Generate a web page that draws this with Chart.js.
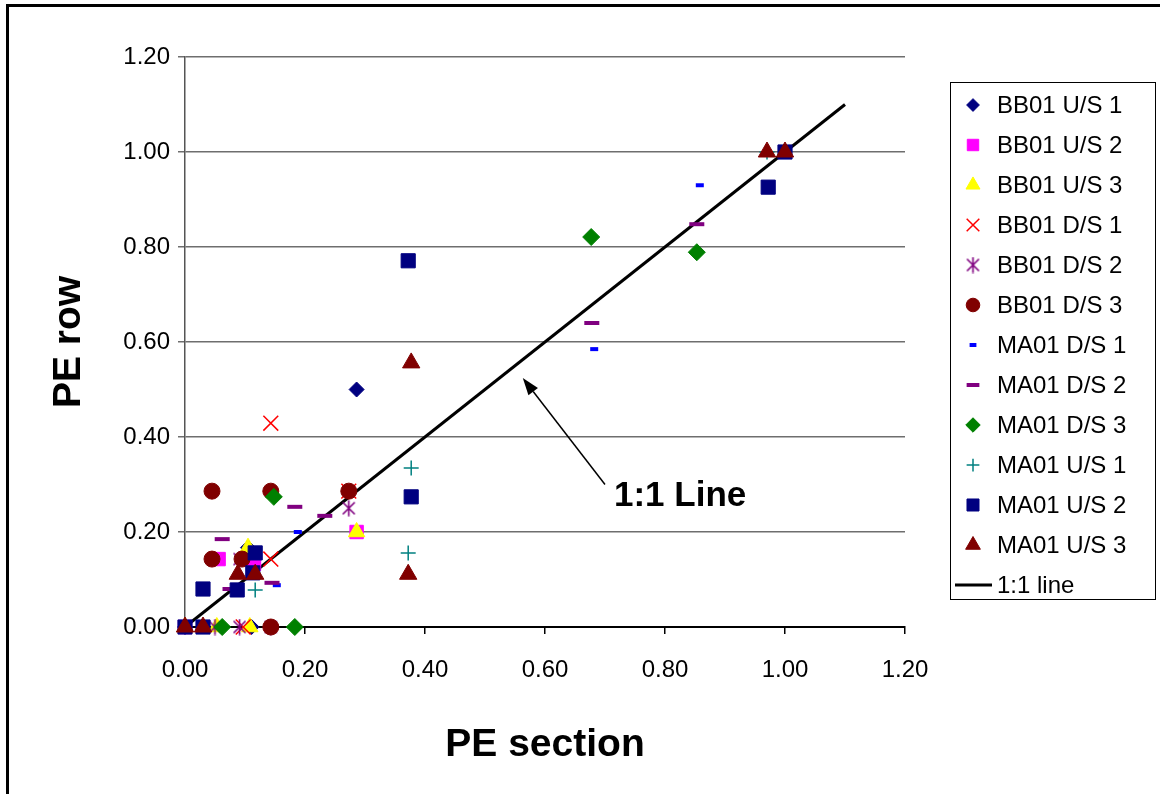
<!DOCTYPE html>
<html>
<head>
<meta charset="utf-8">
<title>PE section vs PE row</title>
<script src="https://cdn.jsdelivr.net/npm/chart.js@4.4.0/dist/chart.umd.min.js"></script>
<style>
  html, body { margin: 0; padding: 0; background: #ffffff; }
  #wrap { position: relative; width: 1160px; height: 794px; }
</style>
</head>
<body>
<div id="wrap"><canvas id="peChart" width="1160" height="794"></canvas></div>
<script>
// series labels, in legend order
const seriesNames = [
    'BB01 U/S 1', 'BB01 U/S 2', 'BB01 U/S 3',
    'BB01 D/S 1', 'BB01 D/S 2', 'BB01 D/S 3',
    'MA01 D/S 1', 'MA01 D/S 2', 'MA01 D/S 3',
    'MA01 U/S 1', 'MA01 U/S 2', 'MA01 U/S 3'
];
const lineName = '1:1 line';

// [PE section, PE row] pairs per series
const bb01Us1 = [[0, 0], [0.105, 0.167], [0.111, 0], [0.286, 0.5]];
const bb01Us2 = [[0, 0], [0.056, 0.143], [0.115, 0.133], [0.286, 0.2]];
const bb01Us3 = [[0, 0], [0.053, 0], [0.105, 0.167], [0.108, 0], [0.286, 0.2]];
const bb01Ds1 = [[0.097, 0], [0.143, 0.143], [0.143, 0.429], [0.273, 0.286]];
const bb01Ds2 = [[0.05, 0], [0.091, 0], [0.091, 0.143], [0.143, 0], [0.273, 0.25]];
const bb01Ds3 = [[0.045, 0.143], [0.095, 0.143], [0.045, 0.286], [0.143, 0.286], [0.273, 0.286], [0.143, 0]];
const ma01Ds1 = [[0.153, 0.088], [0.188, 0.2], [0.682, 0.585], [0.858, 0.93]];
const ma01Ds2 = [[0.062, 0.185], [0.075, 0.08], [0.145, 0.093], [0.183, 0.253], [0.233, 0.234], [0.678, 0.64], [0.853, 0.848]];
const ma01Ds3 = [[0.062, 0], [0.183, 0], [0.148, 0.274], [0.677, 0.821], [0.853, 0.789]];
const ma01Us1 = [[0.117, 0.078], [0.372, 0.156], [0.377, 0.335], [0.97, 1.0]];
const ma01Us2 = [[0, 0], [0.03, 0], [0.03, 0.08], [0.087, 0.078], [0.113, 0.114], [0.117, 0.156],
                 [0.372, 0.771], [0.377, 0.274], [0.972, 0.926], [1.0, 1.0]];
const ma01Us3 = [[0, 0], [0.03, 0], [0.088, 0.111], [0.117, 0.111], [0.372, 0.111], [0.377, 0.556],
                 [0.97, 1.0], [1.0, 1.0]];
const oneToOne = [[0, 0], [1.1, 1.1]];

const xTickLabels = ['0.00', '0.20', '0.40', '0.60', '0.80', '1.00', '1.20'];
const yTickLabels = ['0.00', '0.20', '0.40', '0.60', '0.80', '1.00', '1.20'];

// callout for the 1:1 line, in data units
const calloutText = '1:1 Line';
const calloutTail = [0.70, 0.30];
const calloutTip = [0.563, 0.524];
const calloutLabelAt = [0.715, 0.275];

const FONT = "'Liberation Sans', Arial, sans-serif";

// Excel style asterisk: an X with a vertical bar
function makeAsterisk(size, color) {
    const c = document.createElement('canvas');
    c.width = c.height = size;
    const g = c.getContext('2d');
    g.strokeStyle = color;
    g.lineWidth = 1.6;
    const a = 2.5, b = size - 2.5;
    g.beginPath();
    g.moveTo(a, a); g.lineTo(b, b);
    g.moveTo(b, a); g.lineTo(a, b);
    g.moveTo(size / 2, 0.5); g.lineTo(size / 2, size - 0.5);
    g.stroke();
    return c;
}

const toXY = arr => arr.map(([x, y]) => ({ x, y }));

// marker look for each series
const markerStyles = [
    { style: 'rectRot', r: 7.5, color: '#000080' },
    { style: 'rect', r: 9.5, color: '#FF00FF' },
    { style: 'triangle', r: 9.5, color: '#FFFF00' },
    { style: 'crossRot', r: 10.5, color: '#FF0000', line: 1.5 },
    { style: makeAsterisk(17, '#800080'), r: 8, color: '#800080' },
    { style: 'circle', r: 8, color: '#800000' },
    { style: 'line', r: 4, color: '#0000FF', line: 4 },
    { style: 'line', r: 7.5, color: '#800080', line: 4 },
    { style: 'rectRot', r: 8.5, color: '#008000' },
    { style: 'cross', r: 7.5, color: '#008080', line: 1.5 },
    { style: 'rect', r: 10, color: '#000080' },
    { style: 'triangle', r: 10, color: '#800000' }
];

const seriesData = [bb01Us1, bb01Us2, bb01Us3, bb01Ds1, bb01Ds2, bb01Ds3,
                    ma01Ds1, ma01Ds2, ma01Ds3, ma01Us1, ma01Us2, ma01Us3];

const datasets = seriesData.map((pts, i) => {
    const m = markerStyles[i];
    return {
        type: 'scatter',
        label: seriesNames[i],
        data: toXY(pts),
        pointStyle: m.style,
        pointRadius: m.r,
        pointHoverRadius: m.r,
        backgroundColor: m.color,
        borderColor: m.color,
        pointBorderWidth: m.line || 1,
        clip: false,
        // later series sit on top, as in the spreadsheet
        order: seriesNames.length - i
    };
});

datasets.push({
    type: 'line',
    label: lineName,
    data: toXY(oneToOne),
    borderColor: '#000000',
    borderWidth: 3,
    pointRadius: 0,
    fill: false,
    order: seriesNames.length + 1
});

// outer frame, boxed legend and the arrow callout
const decorations = {
    id: 'decorations',
    afterDraw(chart) {
        const ctx = chart.ctx;
        const xs = chart.scales.x, ys = chart.scales.y;
        ctx.save();

        // frame (only the top and left edges fall inside the canvas)
        ctx.strokeStyle = '#000';
        ctx.lineWidth = 3;
        ctx.beginPath();
        ctx.moveTo(7.5, 800);
        ctx.lineTo(7.5, 5.5);
        ctx.lineTo(1170, 5.5);
        ctx.stroke();

        // callout arrow
        const tx = xs.getPixelForValue(calloutTail[0]), ty = ys.getPixelForValue(calloutTail[1]);
        const hx = xs.getPixelForValue(calloutTip[0]), hy = ys.getPixelForValue(calloutTip[1]);
        const ang = Math.atan2(hy - ty, hx - tx);
        const headLen = 17, headHalf = 6;
        const bx = hx - headLen * Math.cos(ang), by = hy - headLen * Math.sin(ang);
        ctx.lineWidth = 1.5;
        ctx.beginPath();
        ctx.moveTo(tx, ty);
        ctx.lineTo(bx, by);
        ctx.stroke();
        ctx.fillStyle = '#000';
        ctx.beginPath();
        ctx.moveTo(hx, hy);
        ctx.lineTo(bx + headHalf * Math.sin(ang), by - headHalf * Math.cos(ang));
        ctx.lineTo(bx - headHalf * Math.sin(ang), by + headHalf * Math.cos(ang));
        ctx.closePath();
        ctx.fill();

        ctx.font = 'bold 35px ' + FONT;
        ctx.textAlign = 'left';
        ctx.textBaseline = 'middle';
        ctx.fillText(calloutText, xs.getPixelForValue(calloutLabelAt[0]), ys.getPixelForValue(calloutLabelAt[1]));

        // legend
        const lx = 950.5, ly = 82.5, lw = 205, lh = 517;
        ctx.fillStyle = '#fff';
        ctx.fillRect(lx, ly, lw, lh);
        ctx.strokeStyle = '#000';
        ctx.lineWidth = 1;
        ctx.strokeRect(lx, ly, lw, lh);

        const drawPoint = Chart.helpers && Chart.helpers.drawPoint;
        ctx.font = '24px ' + FONT;
        ctx.textBaseline = 'middle';
        chart.data.datasets.forEach((ds, i) => {
            const rowY = 105 + i * 40;
            if (ds.type === 'line') {
                ctx.strokeStyle = ds.borderColor;
                ctx.lineWidth = 3;
                ctx.beginPath();
                ctx.moveTo(955, rowY);
                ctx.lineTo(992, rowY);
                ctx.stroke();
            } else if (drawPoint) {
                ctx.fillStyle = ds.backgroundColor;
                ctx.strokeStyle = ds.borderColor;
                ctx.lineWidth = ds.pointBorderWidth;
                drawPoint(ctx, {
                    pointStyle: ds.pointStyle,
                    radius: ds.pointRadius * 0.85,
                    rotation: 0,
                    borderWidth: ds.pointBorderWidth
                }, 973, rowY);
            }
            ctx.fillStyle = '#000';
            ctx.fillText(ds.label, 997, rowY + 1);
        });
        ctx.restore();
    }
};

new Chart(document.getElementById('peChart'), {
    data: { datasets },
    options: {
        responsive: false,
        animation: false,
        devicePixelRatio: 1,
        layout: { padding: { top: 57, right: 255, left: 10, bottom: 0 } },
        plugins: {
            legend: { display: false },
            tooltip: { enabled: false }
        },
        scales: {
            x: {
                type: 'linear',
                min: 0,
                max: 1.2,
                ticks: {
                    stepSize: 0.2,
                    color: '#000',
                    padding: 22,
                    font: { family: FONT, size: 24 },
                    callback: (v, i) => xTickLabels[i]
                },
                grid: { drawOnChartArea: false, drawTicks: true, tickLength: 7, color: '#000', lineWidth: 1.5 },
                border: { display: true, color: '#000', width: 2 },
                title: {
                    display: true,
                    text: 'PE section',
                    color: '#000',
                    font: { family: FONT, size: 39, weight: 'bold' },
                    padding: { top: 0, bottom: 25 }
                },
                afterFit: s => { s.height = 167; }
            },
            y: {
                type: 'linear',
                min: 0,
                max: 1.2,
                ticks: {
                    stepSize: 0.2,
                    color: '#000',
                    padding: 8,
                    font: { family: FONT, size: 24 },
                    callback: (v, i) => yTickLabels[i]
                },
                grid: { color: '#6e6e6e', lineWidth: 1.5, drawTicks: true, tickLength: 7 },
                border: { display: true, color: '#555', width: 1.5 },
                title: {
                    display: true,
                    text: 'PE row',
                    color: '#000',
                    font: { family: FONT, size: 39, weight: 'bold' },
                    padding: { top: 36, bottom: 0 }
                },
                afterFit: s => { s.width = 175; }
            }
        }
    },
    plugins: [decorations]
});
</script>
</body>
</html>
